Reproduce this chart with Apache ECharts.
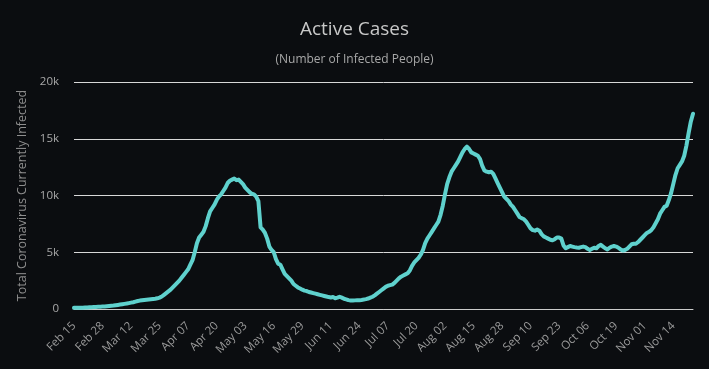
<!DOCTYPE html>
<html>
<head>
<meta charset="utf-8">
<script src="https://cdn.jsdelivr.net/npm/echarts@6/dist/echarts.min.js"></script>
<style>
html,body{margin:0;padding:0;background:#0b0d10;}
#c{width:709px;height:369px;}
</style>
</head>
<body>
<div id="c"></div>
<script>
// Daily dates from Feb 15, 2020 to Nov 23, 2020
const startDate = [2020, 1, 15];
const dayCount = 283;
const monthNames = ["Jan","Feb","Mar","Apr","May","Jun","Jul","Aug","Sep","Oct","Nov","Dec"];
const yTicks = [0, 5000, 10000, 15000, 20000];

// Active cases (daily)
const activeCases = [
  100,105,110,115,120,130,140,150,160,170,
  180,190,200,210,220,240,260,280,300,330,
  360,390,420,450,480,520,560,600,650,700,
  740,770,800,820,840,860,880,900,940,1000,
  1100,1250,1400,1550,1700,1900,2100,2300,2500,2750,
  3000,3250,3500,3900,4300,5000,5800,6300,6550,6800,
  7300,8000,8600,8900,9200,9600,9900,10100,10400,10700,
  11100,11300,11400,11500,11350,11400,11200,11000,10700,10500,
  10300,10150,10100,9900,9500,7200,7000,6700,6200,5500,
  5200,5000,4400,4000,3900,3500,3100,2900,2700,2500,
  2200,2050,1900,1800,1700,1620,1580,1500,1450,1400,
  1350,1300,1250,1200,1150,1100,1050,1020,1050,950,
  1000,1080,1000,900,850,780,750,740,760,780,
  780,800,830,870,920,1000,1080,1200,1350,1500,
  1650,1800,1950,2050,2100,2150,2300,2500,2700,2850,
  2950,3050,3150,3400,3800,4100,4300,4500,4800,5200,
  5800,6200,6500,6800,7100,7400,7700,8300,9100,10100,
  11000,11600,12100,12400,12700,13000,13400,13800,14100,14300,
  14100,13800,13700,13600,13500,13200,12600,12200,12100,12050,
  12100,11900,11500,11100,10700,10300,9900,9700,9500,9200,
  9000,8700,8400,8100,8000,7900,7700,7400,7100,6950,
  6900,7000,6900,6600,6400,6300,6200,6100,6050,6150,
  6300,6300,6200,5600,5350,5450,5550,5500,5450,5420,
  5400,5450,5500,5450,5300,5200,5300,5400,5350,5550,
  5650,5500,5350,5250,5400,5500,5550,5500,5400,5250,
  5150,5200,5300,5500,5700,5750,5750,5900,6100,6300,
  6500,6700,6800,6950,7200,7550,7900,8400,8700,9000,
  9100,9600,10200,11000,11800,12400,12700,13000,13500,14400,
  15500,16500,17200
];

const dates = [];
for (let i = 0; i < dayCount; i++) {
  const d = new Date(startDate[0], startDate[1], startDate[2] + i);
  dates.push(monthNames[d.getMonth()] + " " + String(d.getDate()).padStart(2, "0"));
}

const font = "'Open Sans', 'DejaVu Sans', sans-serif";
const chart = echarts.init(document.getElementById('c'), null, {renderer: 'canvas'});
chart.setOption({
  backgroundColor: '#0b0d10',
  animation: false,
  title: {
    text: 'Active Cases',
    subtext: '(Number of Infected People)',
    left: 'center',
    top: 15,
    itemGap: 15,
    textStyle: {color: '#c8c8c8', fontSize: 19, fontWeight: 'normal', fontFamily: font},
    subtextStyle: {color: '#a8a8a8', fontSize: 12, fontFamily: font}
  },
  grid: {left: 74, right: 16, top: 82, bottom: 60, containLabel: false},
  xAxis: {
    type: 'category',
    data: dates,
    boundaryGap: false,
    axisLine: {show: true, lineStyle: {color: '#cccccc', width: 1}},
    axisTick: {show: false},
    axisLabel: {
      interval: 12,
      rotate: 45,
      color: '#9a9a9a',
      fontSize: 11.5,
      fontFamily: font,
      margin: 15
    },
    splitLine: {show: false}
  },
  yAxis: {
    type: 'value',
    min: 0,
    max: 20000,
    interval: 5000,
    name: 'Total Coronavirus Currently Infected',
    nameLocation: 'middle',
    nameGap: 45,
    nameTextStyle: {color: '#8e8e8e', fontSize: 12.5, fontFamily: font},
    axisLine: {show: false},
    axisTick: {show: false},
    axisLabel: {
      color: '#a8a8a8',
      fontSize: 11.5,
      fontFamily: font,
      margin: 15,
      formatter: function (v) { return v === 0 ? '0' : (v / 1000) + 'k'; }
    },
    splitLine: {show: true, lineStyle: {color: '#d8d8d8', width: 1}}
  },
  series: [{
    type: 'line',
    data: activeCases,
    showSymbol: false,
    smooth: false,
    lineStyle: {color: '#5fd1cd', width: 4, join: 'round', cap: 'round'},
    itemStyle: {color: '#5fd1cd'}
  }]
});
</script>
</body>
</html>
